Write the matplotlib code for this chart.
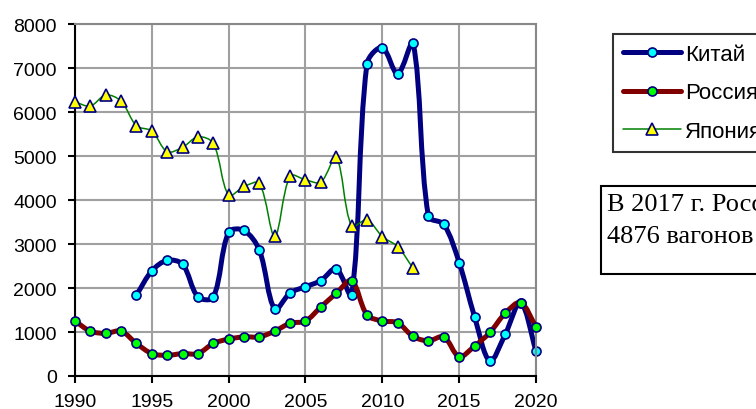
import numpy as np
import matplotlib
matplotlib.use("Agg")
import matplotlib.pyplot as plt
from matplotlib.path import Path
from matplotlib.patches import PathPatch, Rectangle
from matplotlib.lines import Line2D

plt.rcParams['font.family'] = ['Liberation Sans', 'DejaVu Sans']

# данные
years_china = list(range(1994, 2021))
china = [1840, 2390, 2630, 2540, 1800, 1790, 3270, 3310, 2860, 1520, 1890,
         2030, 2170, 2440, 1840, 7100, 7470, 6870, 7570, 3630, 3450,
         2580, 1350, 340, 950, 1670, 570]

years_russia = list(range(1990, 2021))
russia = [1250, 1020, 970, 1020, 740, 510, 470, 510, 510, 740, 840,
          890, 890, 1020, 1200, 1250, 1570, 1880, 2170, 1390, 1250,
          1210, 900, 800, 890, 440, 680, 990, 1430, 1670, 1120]

years_japan = list(range(1990, 2013))
japan = [6230, 6140, 6390, 6250, 5690, 5570, 5100, 5200, 5440, 5290, 4110,
         4310, 4380, 3180, 4550, 4460, 4410, 4970, 3410, 3550, 3170,
         2940, 2450]

labels = ['Китай', 'Россия', 'Япония']


def smooth_path(ax, x, y):
    # сглаживание в духе Excel: касательные масштабируются по длинам отрезков на экране
    pts = np.column_stack([x, y]).astype(float)
    scr = ax.transData.transform(pts)
    n = len(pts)
    d = np.hypot(*np.diff(scr, axis=0).T)
    verts = [pts[0]]
    codes = [Path.MOVETO]
    for i in range(n - 1):
        p1, p2 = pts[i], pts[i + 1]
        if i > 0:
            t1 = (pts[i + 1] - pts[i - 1]) * d[i] / (d[i - 1] + d[i])
        else:
            t1 = (pts[i + 1] - pts[i])
        if i + 2 < n:
            t2 = (pts[i + 2] - pts[i]) * d[i] / (d[i] + d[i + 1])
        else:
            t2 = (pts[i + 1] - pts[i])
        c1 = p1 + t1 / 3
        c2 = p2 - t2 / 3
        verts += [c1, c2, p2]
        codes += [Path.CURVE4] * 3
    return Path(verts, codes)


fig = plt.figure(figsize=(7.56, 4.1), dpi=100)
ax = fig.add_axes([0.0992, 0.0805, 0.6098, 0.858])
ax.set_xlim(1990, 2020)
ax.set_ylim(0, 8000)

series = [
    (years_china, china, '#000080', 3.6, 'o', '#00ffff', 6.5, 2),
    (years_russia, russia, '#800000', 3.6, 'o', '#00ff00', 6.5, 3),
    (years_japan, japan, '#008000', 1.1, '^', '#ffff00', 8, 4),
]
handles = []
for (xs, ys, col, lw, mk, fc, ms, z), lab in zip(series, labels):
    patch = PathPatch(smooth_path(ax, xs, ys), facecolor='none', edgecolor=col,
                      lw=lw, capstyle='round', joinstyle='round', zorder=z)
    ax.add_patch(patch)
    ax.plot(xs, ys, linestyle='none', marker=mk, markersize=ms,
            markerfacecolor=fc, markeredgecolor='#000080',
            markeredgewidth=1.2, zorder=z + 0.5, clip_on=False)
    handles.append(Line2D([], [], color=col, lw=lw, marker=mk, markersize=ms,
                          markerfacecolor=fc, markeredgecolor='#000080',
                          markeredgewidth=1.2, solid_capstyle='round'))

ax.set_xticks(range(1990, 2021, 5))
ax.set_yticks(range(0, 8001, 1000))
ax.grid(True, color='#a0a0a0', lw=1.5)
ax.set_axisbelow(True)
for s in ['top', 'right']:
    ax.spines[s].set_color('#888888')
    ax.spines[s].set_linewidth(1.5)
for s in ['left', 'bottom']:
    ax.spines[s].set_color('black')
    ax.spines[s].set_linewidth(1.5)
ax.tick_params(labelsize=14, length=5, width=1.5)
ax.tick_params(axis='y', pad=8)
ax.tick_params(axis='x', pad=7)

leg = fig.legend(handles, labels, loc='upper left',
                 bbox_to_anchor=(613 / 756, 1 - 35 / 410), fontsize=16,
                 frameon=True, fancybox=False, handlelength=2.6,
                 handletextpad=0.2, labelspacing=0.78, borderpad=0.45,
                 borderaxespad=0)
leg.get_frame().set_edgecolor('black')
leg.get_frame().set_linewidth(1.5)

fig.patches.append(Rectangle((601 / 756, 1 - 275 / 410), 0.3, 88 / 410,
                             transform=fig.transFigure, facecolor='white',
                             edgecolor='black', lw=1.5))
fig.text(607 / 756, 1 - 211 / 410, 'В 2017 г. Россия экспортировала',
         fontsize=19, family='Liberation Serif', va='baseline')
fig.text(607 / 756, 1 - 243 / 410, '4876 вагонов',
         fontsize=19, family='Liberation Serif', va='baseline')

fig.savefig('out.png', dpi=100)
